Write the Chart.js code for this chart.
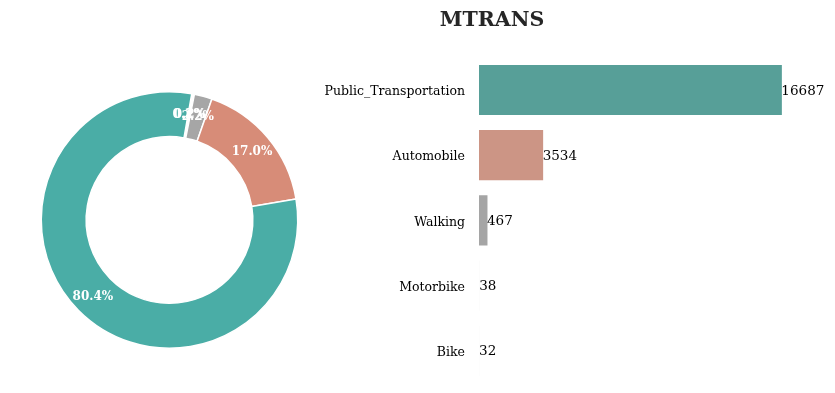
<!DOCTYPE html>
<html>
<head>
<meta charset="utf-8">
<script src="https://cdn.jsdelivr.net/npm/chart.js@4.4.1/dist/chart.umd.min.js"></script>
<style>
  html, body { margin: 0; padding: 0; background: #ffffff; }
  body { width: 835px; height: 393px; position: relative; overflow: hidden; }
  #pieBox { position: absolute; left: 0; top: 0; width: 340px; height: 393px; }
  #barBox { position: absolute; left: 37px; top: 0; width: 798px; height: 393px; }
</style>
</head>
<body>
<div id="pieBox"><canvas id="pie"></canvas></div>
<div id="barBox"><canvas id="bar"></canvas></div>
<script>
// ---- data ----
const title = "MTRANS";
const categories = ["Public_Transportation", "Automobile", "Walking", "Motorbike", "Bike"];
const counts = [16687, 3534, 467, 38, 32];
const pieColors = ["#4aada6", "#d78c78", "#a6a6a6", "#f4f4f4", "#f7f7f7"];
const barColors = ["#579f98", "#cc9585", "#a5a5a5", "#fbfbfb", "#fbfbfb"];

const SERIF = "'DejaVu Serif', serif";
const total = counts.reduce((a, b) => a + b, 0);

// Doughnut drawn clockwise in Chart.js, so reverse order
const pieLabels = categories.slice().reverse();
const pieData = counts.slice().reverse();
const pieBg = pieColors.slice().reverse();

const pctPlugin = {
  id: 'pct',
  afterDatasetsDraw(chart) {
    const ctx = chart.ctx;
    const meta = chart.getDatasetMeta(0);
    ctx.save();
    ctx.fillStyle = '#ffffff';
    ctx.font = "bold 12px " + SERIF;
    ctx.textAlign = 'center';
    ctx.textBaseline = 'middle';
    meta.data.forEach((arc, i) => {
      const p = arc.getProps(['x', 'y', 'startAngle', 'endAngle', 'innerRadius', 'outerRadius'], true);
      const a = (p.startAngle + p.endAngle) / 2;
      const r = (p.innerRadius + p.outerRadius) / 2 + 2;
      const v = pieData[i] / total * 100;
      ctx.fillText(v.toFixed(1) + '%', p.x + r * Math.cos(a), p.y + r * Math.sin(a) + 1);
    });
    ctx.restore();
  }
};

new Chart(document.getElementById('pie'), {
  type: 'doughnut',
  data: {
    labels: pieLabels,
    datasets: [{
      data: pieData,
      backgroundColor: pieBg,
      borderColor: '#ffffff',
      borderWidth: 1.5
    }]
  },
  options: {
    responsive: true,
    maintainAspectRatio: false,
    animation: false,
    rotation: 10,
    cutout: '65%',
    layout: { padding: { left: 40, right: 41, top: 91, bottom: 44 } },
    plugins: { legend: { display: false }, tooltip: { enabled: false } }
  },
  plugins: [pctPlugin]
});

const valPlugin = {
  id: 'vals',
  afterDatasetsDraw(chart) {
    const ctx = chart.ctx;
    const meta = chart.getDatasetMeta(0);
    ctx.save();
    ctx.fillStyle = '#000000';
    ctx.font = "13.5px " + SERIF;
    ctx.textAlign = 'left';
    ctx.textBaseline = 'middle';
    meta.data.forEach((bar, i) => {
      const p = bar.getProps(['x', 'y'], true);
      ctx.fillText(String(counts[i]), p.x - 0.5, p.y + 1);
    });
    ctx.restore();
  }
};

new Chart(document.getElementById('bar'), {
  type: 'bar',
  data: {
    labels: categories,
    datasets: [{
      data: counts,
      backgroundColor: barColors,
      borderWidth: 0,
      categoryPercentage: 1.0,
      barPercentage: 0.77
    }]
  },
  options: {
    indexAxis: 'y',
    responsive: true,
    maintainAspectRatio: false,
    animation: false,
    layout: { padding: { left: 150, right: 38, top: 0, bottom: 9.5 } },
    scales: {
      x: { display: false, min: 0, max: 17521 },
      y: {
        grid: { display: false, drawTicks: false },
        border: { display: false },
        ticks: { color: '#000000', font: { family: SERIF, size: 12.5 }, padding: 14, labelOffset: 2 },
        afterFit(s) { s.width = 292; s.paddingTop = 0; s.paddingBottom = 0; }
      }
    },
    plugins: {
      legend: { display: false },
      tooltip: { enabled: false },
      title: {
        display: true,
        text: title,
        color: '#262626',
        font: { family: SERIF, size: 20.5, weight: 'bold' },
        padding: { top: 8, bottom: 24.8 }
      }
    }
  },
  plugins: [valPlugin]
});
</script>
</body>
</html>
